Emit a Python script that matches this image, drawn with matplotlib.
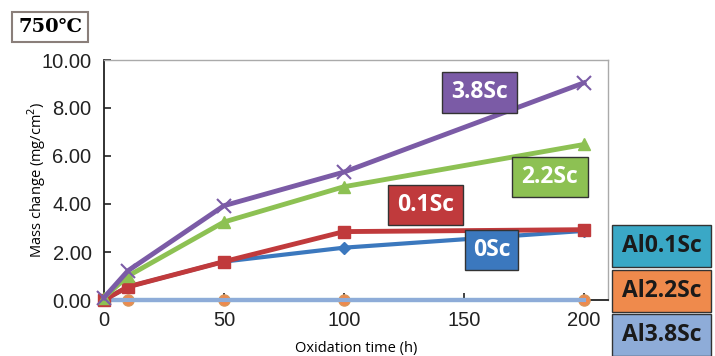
import numpy as np
import matplotlib
matplotlib.use("Agg")
from matplotlib import pyplot as plt
from matplotlib.patches import Rectangle

hours = [0, 10, 50, 100, 200]
sc38 = [0.1, 1.22, 3.93, 5.33, 9.05]
sc22 = [0.1, 1.0, 3.25, 4.72, 6.48]
sc01 = [0.0, 0.55, 1.6, 2.85, 2.93]
sc00 = [0.0, 0.55, 1.6, 2.18, 2.88]
al01 = [0.0, 0.0, 0.0, 0.0, 0.0]
al22 = [0.0, -0.02, -0.02, -0.02, 0.02]
al38 = [0.0, 0.0, 0.0, 0.0, 0.0]

purple = "#7b5ba6"
green = "#8dc153"
red = "#c03a3c"
blue = "#3b78be"
teal = "#3aa8c6"
orange = "#ef8a4c"
lblue = "#8eacd8"

W, H = 715, 356
fig = plt.figure(figsize=(7.15, 3.56), dpi=100)
ax = fig.add_axes([104/W, 1-300/H, 504/W, 240/H])

ax.plot(hours, al01, color=teal, lw=3, marker="o", ms=7, clip_on=False, zorder=3)
ax.plot(hours, al22, color=orange, lw=0, marker="o", ms=8, mfc=orange, mec="#d9985e", clip_on=False, zorder=4)
ax.plot(hours, al38, color=lblue, lw=3, clip_on=False, zorder=5)
ax.plot(hours, sc00, color=blue, lw=3, marker="D", ms=6, clip_on=False, zorder=6)
ax.plot(hours, sc01, color=red, lw=3.5, marker="s", ms=9, clip_on=False, zorder=7)
ax.plot(hours, sc22, color=green, lw=3.5, marker="^", ms=9, clip_on=False, zorder=8)
ax.plot(hours, sc38, color=purple, lw=3.5, marker="x", ms=10, mew=1.5, clip_on=False, zorder=9)

ax.set_xlim(0, 210)
ax.set_ylim(0, 10)
ax.set_xticks([0, 50, 100, 150, 200])
ax.set_yticks(np.arange(0, 10.01, 2))
ax.set_yticklabels(["%.2f" % v for v in np.arange(0, 10.01, 2)])
ax.tick_params(direction="in", labelsize=14.5, length=5, width=1.2, colors="#222222")
ax.tick_params(axis="y", pad=9)
ax.tick_params(axis="x", pad=8)
for lab in ax.get_xticklabels() + ax.get_yticklabels():
    lab.set_family("Liberation Sans")
for s in ["left", "bottom"]:
    ax.spines[s].set_color("#222222")
    ax.spines[s].set_linewidth(1.3)
for s in ["top", "right"]:
    ax.spines[s].set_color("#aaaaaa")
    ax.spines[s].set_linewidth(1)

ax.set_xlabel("Oxidation time (h)", fontsize=10.5, family="Open Sans", labelpad=8)
ax.set_ylabel("Mass change (mg/cm$^2$)", fontsize=10.5, family="Open Sans", labelpad=-5)


def box(x0, y0, x1, y1, text, fc, tc, fs):
    fig.patches.append(Rectangle((x0/W, 1-y1/H), (x1-x0)/W, (y1-y0)/H,
                                 transform=fig.transFigure, fc=fc, ec="#333333",
                                 lw=1, zorder=20))
    fig.text((x0+x1)/2/W, 1-(y0+y1)/2/H, text, ha="center", va="center",
             color=tc, fontsize=fs, fontweight="bold", family="Open Sans", zorder=21)


# series labels inside the plot
box(442, 72, 517, 113, "3.8Sc", purple, "white", 16.5)
box(512, 157, 588, 197, "2.2Sc", green, "white", 16.5)
box(388, 185, 463, 225, "0.1Sc", red, "white", 16.5)
box(465, 230, 518, 270, "0Sc", blue, "white", 16.5)

# legend boxes on the right
box(612, 225, 711, 267, "Al0.1Sc", teal, "#1a1a1a", 16.5)
box(612, 270, 711, 312, "Al2.2Sc", orange, "#1a1a1a", 16.5)
box(612, 314, 711, 356, "Al3.8Sc", lblue, "#1a1a1a", 16.5)

fig.text(50/W, 1-27/H, "750℃", ha="center", va="center", fontsize=14,
         fontweight="bold", family=["DejaVu Serif", "Noto Sans CJK SC"],
         bbox=dict(boxstyle="square,pad=0.3", fc="white", ec="#8a7f7a", lw=1.5))

fig.savefig("out.png", dpi=100)
